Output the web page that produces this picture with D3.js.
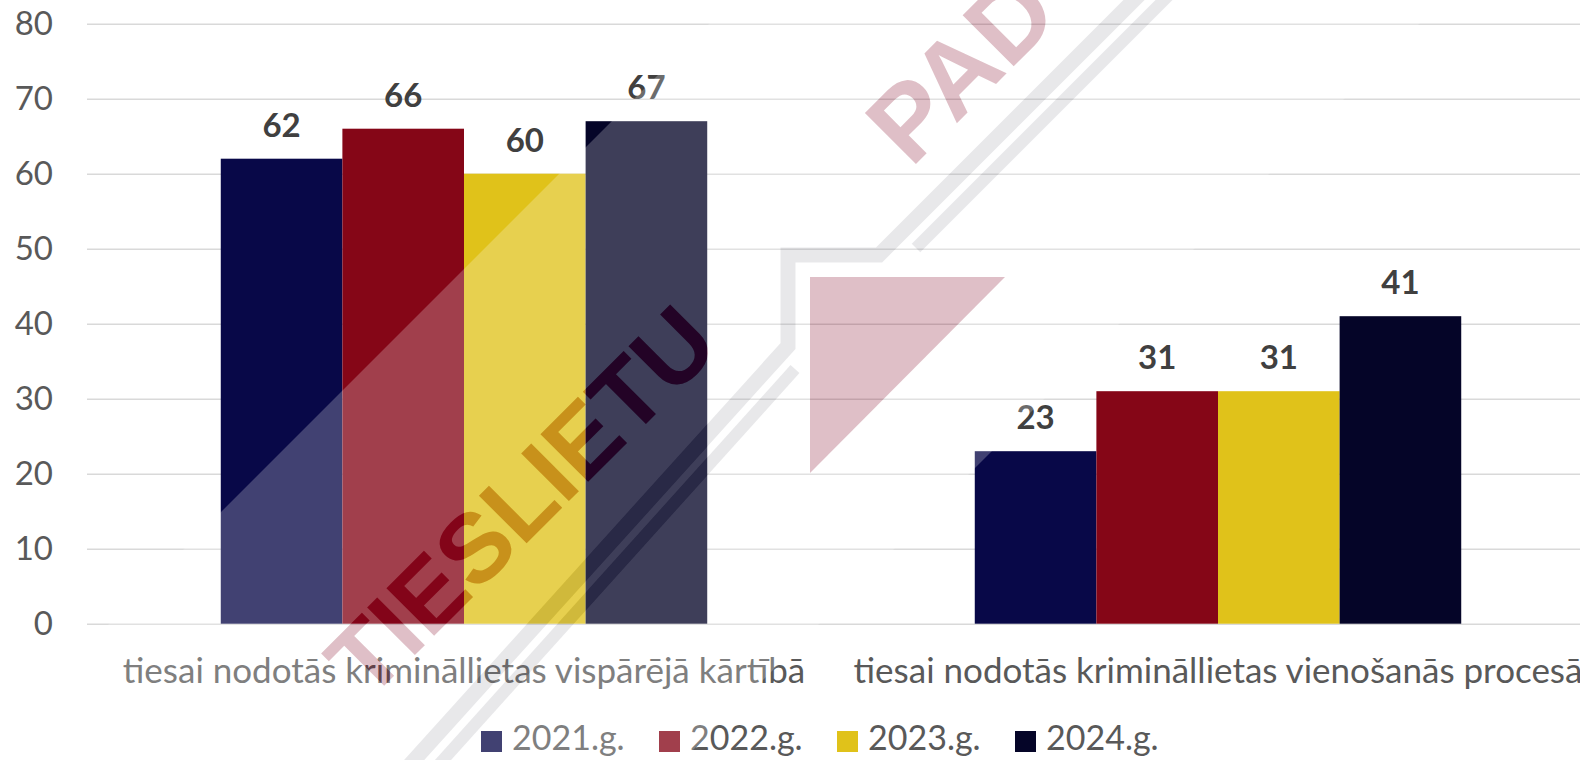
<!DOCTYPE html>
<html>
<head>
<meta charset="utf-8">
<script src="https://cdn.jsdelivr.net/npm/d3@7"></script>
<style>
    body { margin: 0; background: #ffffff; }
    svg { display: block; font-family: Lato, "Open Sans", sans-serif; }
</style>
</head>
<body>
<div id="chart"></div>
<script>
const categories = [
    "tiesai nodotās krimināllietas vispārējā kārtībā",
    "tiesai nodotās krimināllietas vienošanās procesā"
]
const years = ["2021.g.", "2022.g.", "2023.g.", "2024.g."]
const values2021 = [62, 23]
const values2022 = [66, 31]
const values2023 = [60, 31]
const values2024 = [67, 41]
const yTicks = [0, 10, 20, 30, 40, 50, 60, 70, 80]

const seriesColors = ["#080848", "#850617", "#e0c21a", "#050528"]

createBarChart("chart")

function createBarChart(id) {
    const width = 1580
    const height = 760
    const margin = {top: 23.7, right: -15, bottom: 136.3, left: 87}
    const seriesValues = [values2021, values2022, values2023, values2024]

    const svg = d3.select("#" + id)
        .append("svg")
        .attr("width", width)
        .attr("height", height)

    const x0 = d3.scaleBand()
        .domain(categories)
        .range([margin.left, width - margin.right])
        .padding(0)

    const x1 = d3.scaleBand()
        .domain(years)
        .range([0, x0.bandwidth()])
        .paddingInner(0)
        .paddingOuter(1.1)

    const y = d3.scaleLinear()
        .domain([0, 80])
        .range([height - margin.bottom, margin.top])

    // gridlines + tick labels
    const yAxis = svg.append("g")
        .attr("transform", "translate(" + margin.left + ",0)")
        .call(d3.axisLeft(y)
            .tickValues(yTicks)
            .tickSize(-(width - margin.left - margin.right))
            .tickPadding(34))
    yAxis.select(".domain").remove()
    yAxis.selectAll("line")
        .attr("stroke", "#d9d9d9")
        .attr("stroke-width", 1.5)
    yAxis.selectAll("text")
        .attr("fill", "#595959")
        .style("font-size", "33px")
        .style("font-family", "Lato, sans-serif")

    const data = categories.map(function(cat, i) {
        return {
            category: cat,
            bars: years.map(function(yr, j) { return {year: yr, value: seriesValues[j][i]} })
        }
    })

    const groups = svg.selectAll("g.group")
        .data(data)
        .enter()
        .append("g")
        .attr("class", "group")
        .attr("transform", function(d) { return "translate(" + x0(d.category) + ",0)" })

    groups.selectAll("rect")
        .data(function(d) { return d.bars })
        .enter()
        .append("rect")
        .attr("x", function(d) { return x1(d.year) })
        .attr("y", function(d) { return y(d.value) })
        .attr("width", x1.bandwidth())
        .attr("height", function(d) { return y(0) - y(d.value) })
        .attr("fill", function(d, j) { return seriesColors[j] })

    groups.selectAll("text.value")
        .data(function(d) { return d.bars })
        .enter()
        .append("text")
        .attr("class", "value")
        .attr("x", function(d) { return x1(d.year) + x1.bandwidth() / 2 })
        .attr("y", function(d) { return y(d.value) - 22 })
        .attr("text-anchor", "middle")
        .attr("fill", "#404040")
        .style("font-size", "33px")
        .style("font-weight", "bold")
        .text(function(d) { return d.value })

    // category labels
    svg.selectAll("text.category")
        .data(categories)
        .enter()
        .append("text")
        .attr("class", "category")
        .attr("x", function(d) { return x0(d) + x0.bandwidth() / 2 })
        .attr("y", 683)
        .attr("text-anchor", "middle")
        .attr("fill", "#595959")
        .style("font-size", "35px")
        .text(function(d) { return d })

    // legend
    const legend = svg.selectAll("g.legend")
        .data(years)
        .enter()
        .append("g")
        .attr("class", "legend")
        .attr("transform", function(d, i) { return "translate(" + (481 + i * 178) + ",731)" })
    legend.append("rect")
        .attr("width", 21)
        .attr("height", 21)
        .attr("fill", function(d, i) { return seriesColors[i] })
    legend.append("text")
        .attr("x", 31)
        .attr("y", 19)
        .attr("fill", "#595959")
        .style("font-size", "34px")
        .text(function(d) { return d })

    drawWatermark(svg, width, height)
}

// faint logo laid over the chart
function drawWatermark(svg, width, height) {
    const defs = svg.append("defs")
    const mask = defs.append("mask").attr("id", "wmMask")
    mask.append("rect").attr("width", width).attr("height", height).attr("fill", "white")
    logoShapes(mask, "black", 1, "black", 1)

    svg.append("polygon")
        .attr("points", [[733, 0], [1443, 0], [683, height], [-27, height]].join(" "))
        .attr("fill", "white")
        .attr("fill-opacity", 0.23)
        .attr("mask", "url(#wmMask)")

    logoShapes(svg, "#800020", 0.25, "#a0a0a8", 0.24)
}

function logoShapes(parent, red, redOpacity, gray, grayOpacity) {
    const c1 = 1134
    const c2 = 1164
    const g = parent.append("g")
    const line = d3.line()

    g.append("path")
        .attr("d", line([[c1 + 60, -60], [c1 - 255, 255], [788, 255], [788, c1 - 788], [360, 820]]))
        .attr("fill", "none")
        .attr("stroke", gray)
        .attr("stroke-opacity", grayOpacity)
        .attr("stroke-width", 15)
    g.append("path")
        .attr("d", line([[c2 + 60, -60], [c2 - 248, 248]]))
        .attr("fill", "none")
        .attr("stroke", gray)
        .attr("stroke-opacity", grayOpacity)
        .attr("stroke-width", 12)
    g.append("path")
        .attr("d", line([[795, c2 - 795], [389, 820]]))
        .attr("fill", "none")
        .attr("stroke", gray)
        .attr("stroke-opacity", grayOpacity)
        .attr("stroke-width", 12)

    g.append("polygon")
        .attr("points", [[810, 277], [1005, 277], [810, 473]].join(" "))
        .attr("fill", red)
        .attr("fill-opacity", redOpacity)

    g.append("text")
        .attr("transform", "translate(545,525) rotate(-45)")
        .attr("text-anchor", "middle")
        .attr("fill", red)
        .attr("fill-opacity", redOpacity)
        .style("font-family", "'Liberation Sans', Arial, sans-serif")
        .style("font-weight", "bold")
        .style("font-size", "98px")
        .text("TIESLIETU")
    g.append("text")
        .attr("transform", "translate(911,169) rotate(-45)")
        .attr("fill", red)
        .attr("fill-opacity", redOpacity)
        .style("font-family", "'Liberation Sans', Arial, sans-serif")
        .style("font-weight", "bold")
        .style("font-size", "105px")
        .text("PAD")
}
</script>
</body>
</html>
